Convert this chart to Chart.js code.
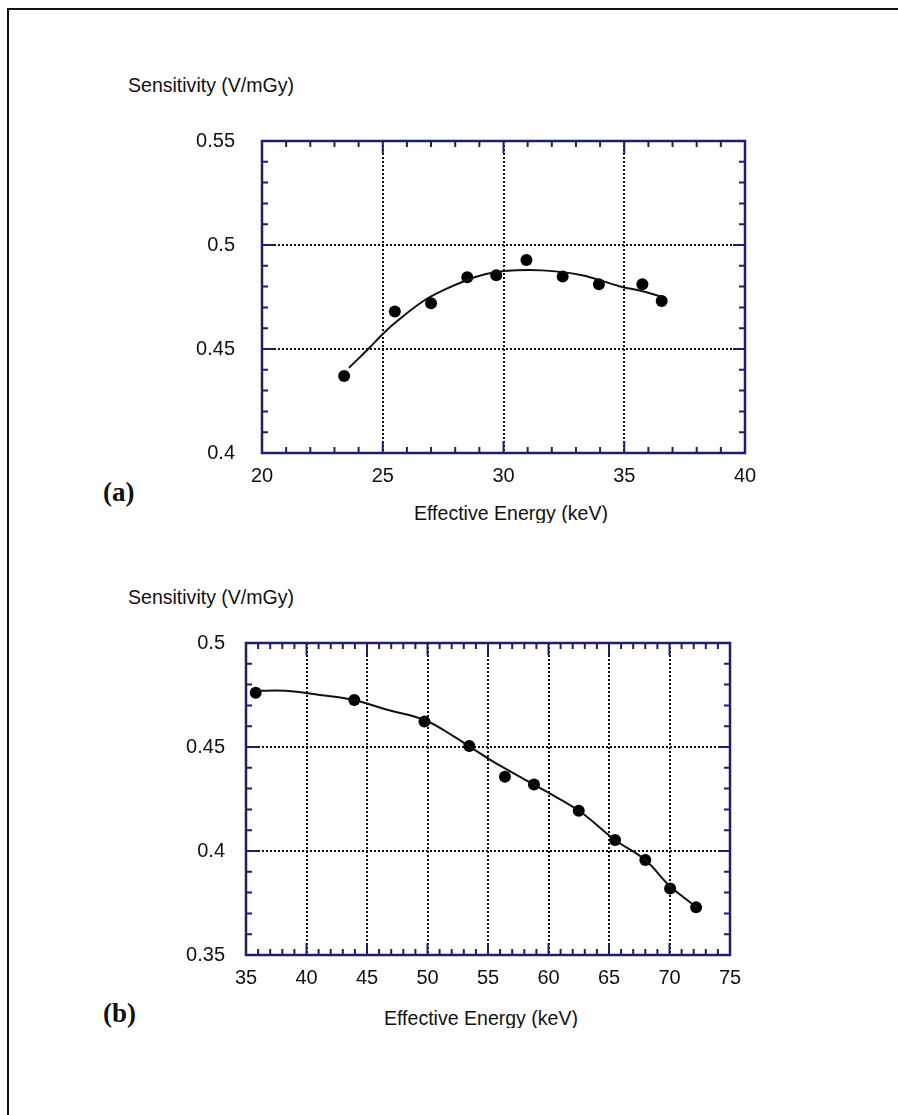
<!DOCTYPE html>
<html>
<head>
<meta charset="utf-8">
<script src="https://cdn.jsdelivr.net/npm/chart.js@4/dist/chart.umd.min.js"></script>
<style>
  body { margin: 0; background: #fff; width: 898px; height: 1115px; position: relative; overflow: hidden; font-family: 'Liberation Sans', Arial, sans-serif; }
  #frame { position: absolute; left: 7px; top: 8px; width: 1000px; height: 1200px; border: 2px solid #111; }
  canvas { position: absolute; left: 0; }
  .ylab, .xlab { position: absolute; font-size: 21px; line-height: 21px; white-space: nowrap; color: #111; }
  .ylab { transform: scaleX(0.93); transform-origin: left top; }
  .xlab { width: 400px; height: 21px; overflow: hidden; text-align: center; transform: scaleX(0.93); }
  .panel { position: absolute; font-family: 'Liberation Serif', 'Times New Roman', serif; font-weight: bold; font-size: 27px; line-height: 27px; color: #111; }
</style>
</head>
<body>
<div id="frame"></div>

<div class="ylab" style="left:128px;top:74px">Sensitivity (V/mGy)</div>
<div class="xlab" style="left:311px;top:502px">Effective Energy (keV)</div>
<div class="panel" style="left:103px;top:479px">(a)</div>

<div class="ylab" style="left:128px;top:586px">Sensitivity (V/mGy)</div>
<div class="xlab" style="left:281px;top:1007px">Effective Energy (keV)</div>
<div class="panel" style="left:103px;top:1000px">(b)</div>

<canvas id="chartA" width="898" height="560" style="top:0px"></canvas>
<canvas id="chartB" width="898" height="560" style="top:500px"></canvas>

<script>
// panel (a): 20 - 40 keV
const energyA = [23.4, 25.5, 27.0, 28.5, 29.7, 30.95, 32.45, 33.95, 35.75, 36.55];
const sensA = [0.437, 0.468, 0.472, 0.4845, 0.4855, 0.4928, 0.4848, 0.4811, 0.4811, 0.4731];
const fitEnergyA = [23.6, 24.4, 25.0, 25.5, 26.7, 27.65, 28.5, 29.2, 30.0, 31.6, 33.2, 34.8, 35.8, 36.6];
const fitSensA = [0.441, 0.450, 0.4572, 0.4625, 0.4732, 0.479, 0.4832, 0.4858, 0.4875, 0.4878, 0.4856, 0.4802, 0.4776, 0.475];
const xTicksA = [20, 25, 30, 35, 40];
const yTicksA = [0.4, 0.45, 0.5, 0.55];

// panel (b): 35 - 75 keV
const energyB = [35.8, 43.95, 49.75, 53.45, 56.4, 58.8, 62.5, 65.5, 68.0, 70.05, 72.2];
const sensB = [0.4761, 0.4726, 0.4622, 0.4505, 0.4357, 0.432, 0.4193, 0.4053, 0.3957, 0.382, 0.3729];
const fitEnergyB = [35.8, 38.3, 41.1, 43.9, 46.6, 49.75, 52.2, 53.8, 56.0, 59.85, 62.6, 65.5, 68.0, 70.05, 72.25];
const fitSensB = [0.477, 0.477, 0.475, 0.4726, 0.468, 0.463, 0.455, 0.449, 0.441, 0.4285, 0.419, 0.4053, 0.3957, 0.383, 0.373];
const xTicksB = [35, 40, 45, 50, 55, 60, 65, 70, 75];
const yTicksB = [0.35, 0.4, 0.45, 0.5];

const navy = '#1e1e6a';

// box around the plot with inward major / minor ticks on all four sides
const frameTicks = {
  id: 'frameTicks',
  afterDatasetsDraw(chart, args, opts) {
    const {ctx, chartArea: a, scales: {x, y}} = chart;
    ctx.save();
    ctx.strokeStyle = navy;
    ctx.lineWidth = 2;
    ctx.beginPath();
    for (let v = x.min; v <= x.max + 1e-9; v += opts.minorX) {
      const px = x.getPixelForValue(v);
      const major = Math.abs(v / opts.majorX - Math.round(v / opts.majorX)) < 1e-6;
      const len = major ? 12 : 6;
      ctx.moveTo(px, a.bottom); ctx.lineTo(px, a.bottom - len);
      ctx.moveTo(px, a.top); ctx.lineTo(px, a.top + len);
    }
    for (let v = y.min; v <= y.max + 1e-9; v += opts.minorY) {
      const py = y.getPixelForValue(v);
      const major = Math.abs(v / opts.majorY - Math.round(v / opts.majorY)) < 1e-6;
      const len = major ? 12 : 6;
      ctx.moveTo(a.left, py); ctx.lineTo(a.left + len, py);
      ctx.moveTo(a.right, py); ctx.lineTo(a.right - len, py);
    }
    ctx.stroke();
    ctx.lineWidth = 2.5;
    ctx.strokeRect(a.left, a.top, a.right - a.left, a.bottom - a.top);
    ctx.restore();
  }
};

function makeConfig(px, py, fx, fy, xt, yt, box) {
  return {
    type: 'scatter',
    data: {
      datasets: [
        {
          data: fx.map((v, i) => ({x: v, y: fy[i]})),
          showLine: true,
          tension: 0.4,
          borderColor: '#111',
          borderWidth: 2,
          pointRadius: 0
        },
        {
          data: px.map((v, i) => ({x: v, y: py[i]})),
          pointRadius: 6,
          pointBackgroundColor: '#000',
          pointBorderColor: '#000',
          pointBorderWidth: 0
        }
      ]
    },
    options: {
      responsive: false,
      animation: false,
      devicePixelRatio: 1,
      layout: {padding: {left: 0, top: box.top, right: box.right, bottom: 0}},
      plugins: {
        legend: {display: false},
        tooltip: {enabled: false},
        frameTicks: {minorX: 1, majorX: 5, minorY: 0.01, majorY: 0.05}
      },
      scales: {
        x: {
          type: 'linear',
          min: xt[0],
          max: xt[xt.length - 1],
          afterBuildTicks: s => { s.ticks = xt.map(v => ({value: v})); },
          afterFit: s => { s.height = box.xh; },
          border: {display: false, dash: [2, 2]},
          grid: {color: '#111', lineWidth: 2, drawTicks: false},
          ticks: {padding: 11, color: '#111', font: {family: 'Liberation Sans', size: 20}}
        },
        y: {
          type: 'linear',
          min: yt[0],
          max: yt[yt.length - 1],
          afterBuildTicks: s => { s.ticks = yt.map(v => ({value: v})); },
          afterFit: s => { s.width = box.yw; },
          border: {display: false, dash: [2, 2]},
          grid: {color: '#111', lineWidth: 2, drawTicks: false},
          ticks: {
            padding: box.ypad,
            color: '#111',
            font: {family: 'Liberation Sans', size: 20},
            callback: v => String(Number(v.toFixed(2)))
          }
        }
      }
    },
    plugins: [frameTicks]
  };
}

new Chart(document.getElementById('chartA'),
  makeConfig(energyA, sensA, fitEnergyA, fitSensA, xTicksA, yTicksA,
    {top: 141, right: 153, xh: 107, yw: 262, ypad: 27}));

new Chart(document.getElementById('chartB'),
  makeConfig(energyB, sensB, fitEnergyB, fitSensB, xTicksB, yTicksB,
    {top: 143, right: 168, xh: 105, yw: 246, ypad: 21}));
</script>
</body>
</html>
